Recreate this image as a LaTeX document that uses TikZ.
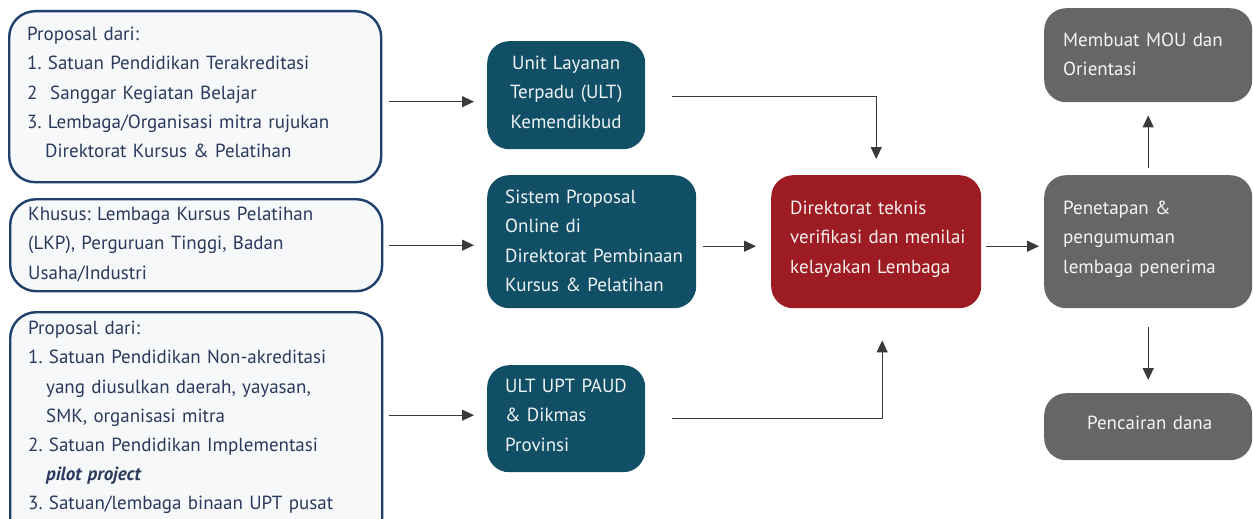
\documentclass[tikz,border=0pt]{standalone}
\usepackage{fontspec}
\setmainfont{PT Sans}
\usetikzlibrary{arrows.meta,calc}

\definecolor{navyline}{HTML}{1F3F6C}
\definecolor{navytext}{HTML}{2A3A5C}
\definecolor{paleblue}{HTML}{F6F8FA}
\definecolor{tealbox}{HTML}{114F66}
\definecolor{redbox}{HTML}{9D1B22}
\definecolor{greybox}{HTML}{666667}
\definecolor{arrowgrey}{HTML}{3A3A3C}

\tikzset{
  basebox/.style={anchor=north west, inner sep=0pt, align=left,
    font=\fontsize{19}{29.2}\selectfont\frenchspacing},
  padleft/.style={execute at begin node={\leftskip=#1\relax\hyphenpenalty=10000\relax}},
  sourcebox/.style={basebox, draw=navyline, line width=2.4pt, fill=paleblue,
    rounded corners=26pt, text=navytext, padleft=18pt},
  colbox/.style={basebox, rounded corners=22pt, text=white!93!#1, fill=#1},
  flow/.style={draw=arrowgrey, line width=1.2pt,
    -{Triangle[length=12pt,width=11pt]}}
}

\begin{document}
\begin{tikzpicture}[x=1pt,y=-1pt]
\useasboundingbox (0,0) rectangle (1253,519);

% proposal sources
\node[sourcebox, text width=372pt, text height=29.5pt, text depth=141.5pt]
  (src1) at (8,10) {Proposal dari:\\
  1. Satuan Pendidikan Terakreditasi\\
  2\ \ Sanggar Kegiatan Belajar\\
  3. Lembaga/Organisasi mitra rujukan\\
  \hspace*{18pt}Direktorat Kursus \& Pelatihan};

\node[sourcebox, text width=372pt, text height=21.5pt, text depth=70.5pt]
  (src2) at (9,198) {Khusus: Lembaga Kursus Pelatihan\\
  (LKP), Perguruan Tinggi, Badan\\
  Usaha/Industri};

\node[sourcebox, text width=372pt, text height=22.5pt, text depth=212pt]
  (src3) at (9,311) {Proposal dari:\\
  1. Satuan Pendidikan Non-akreditasi\\
  \hspace*{18pt}yang diusulkan daerah, yayasan,\\
  \hspace*{18pt}SMK, organisasi mitra\\
  2. Satuan Pendidikan Implementasi\\
  \hspace*{18pt}\textbf{\textit{pilot project}}\\
  3. Satuan/lembaga binaan UPT pusat};

% receiving services
\node[colbox=tealbox, align=center, text width=158pt, text height=28.5pt, text depth=79.5pt]
  (ult) at (487,41) {Unit Layanan\\ Terpadu (ULT)\\ Kemendikbud};

\node[colbox=tealbox, padleft=18pt, text width=209pt, text height=28.5pt, text depth=104.5pt]
  (spo) at (487,175) {Sistem Proposal\\ Online di\\ Direktorat Pembinaan\\ Kursus \& Pelatihan};

\node[colbox=tealbox, padleft=18pt, text width=158pt, text height=27.5pt, text depth=79.5pt]
  (upt) at (487,365) {ULT UPT PAUD\\ \& Dikmas\\ Provinsi};

% verification
\node[colbox=redbox, padleft=19pt, text width=210pt, text height=39.5pt, text depth=93.5pt]
  (verif) at (771,175) {Direktorat teknis\\ verifikasi dan menilai\\ kelayakan Lembaga};

% outcomes
\node[colbox=greybox, padleft=19pt, text width=208pt, text height=38.5pt, text depth=55.5pt]
  (mou) at (1044,8) {Membuat MOU dan\\ Orientasi};

\node[colbox=greybox, padleft=19pt, text width=208pt, text height=39.5pt, text depth=93.5pt]
  (tetap) at (1044,175) {Penetapan \&\\ pengumuman\\ lembaga penerima};

\node[colbox=greybox, align=center, text width=208pt, text height=36.5pt, text depth=30.5pt]
  (cair) at (1044,393) {\hspace*{3pt}Pencairan dana};

% connectors
\draw[flow] ([xshift=7pt,yshift=-6.5pt]ult.west -| src1.east) -- ([xshift=-13pt,yshift=-6.5pt]ult.west);
\draw[flow] ([xshift=6pt]src2.east) -- ([xshift=-13pt]src2.east -| spo.west);
\draw[flow] ([xshift=6pt,yshift=3.5pt]upt.west -| src3.east) -- ([xshift=-13pt,yshift=3.5pt]upt.west);

\draw[flow] ([xshift=27pt,yshift=-1pt]ult.east) -| ([yshift=16pt]verif.north);
\draw[flow] ([xshift=7pt,yshift=-4.5pt]spo.east) -- ([xshift=-15pt,yshift=-4.5pt]verif.west);
\draw[flow] ([xshift=27pt,yshift=0.5pt]upt.east) -| ([xshift=6pt,yshift=-32pt]verif.south);

\draw[flow] ([xshift=5pt,yshift=-4.5pt]verif.east) -- ([xshift=-5pt,yshift=-4.5pt]tetap.west);
\draw[flow] ([yshift=7pt]tetap.north) -- ([yshift=-13pt]mou.south);
\draw[flow] ([yshift=-19pt]tetap.south) -- ([yshift=13pt]cair.north);
\end{tikzpicture}
\end{document}
